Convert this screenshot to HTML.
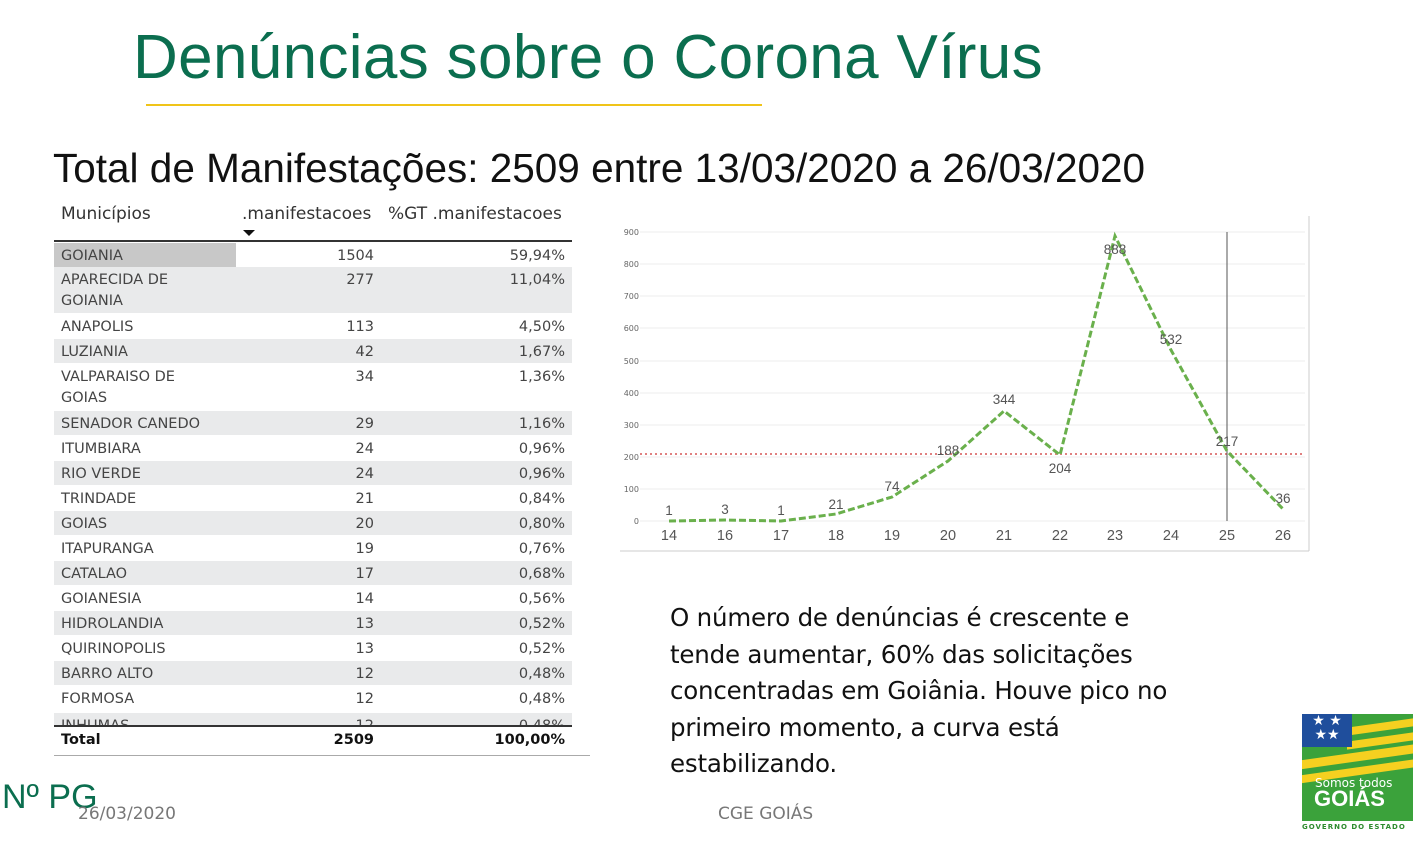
<!DOCTYPE html>
<html><head><meta charset="utf-8"><style>
body{margin:0;width:1426px;height:847px;background:#fff;position:relative;overflow:hidden;font-family:"DejaVu Sans","Liberation Sans",sans-serif}
.a{position:absolute;white-space:nowrap}
.r{position:absolute;left:54px;width:518px;font-size:14.5px;color:#444}
.r span{position:absolute;top:3px;line-height:21px}
.n{right:198px}.p{right:7px}.m{left:7px}
</style></head><body>
<div class="a" style="left:133px;top:22px;font-size:62px;letter-spacing:0.35px;color:#0b6e4f;font-family:'Liberation Sans',sans-serif">Denúncias sobre o Corona Vírus</div>
<div class="a" style="left:146px;top:104px;width:616px;height:2px;background:#f0c419"></div>
<div class="a" style="left:53px;top:145px;font-size:40.5px;color:#111;font-family:'Liberation Sans',sans-serif">Total de Manifestações: 2509 entre 13/03/2020 a 26/03/2020</div>
<div class="a" style="left:61px;top:204px;font-size:17px;color:#333">Municípios</div>
<div class="a" style="left:242px;top:204px;font-size:17px;color:#333">.manifestacoes</div>
<div class="a" style="left:388px;top:204px;font-size:17px;color:#333">%GT .manifestacoes</div>
<div class="a" style="left:243px;top:230px;width:0;height:0;border-left:6px solid transparent;border-right:6px solid transparent;border-top:6px solid #111"></div>
<div class="a" style="left:54px;top:240px;width:518px;height:2px;background:#333"></div>
<div style="position:absolute;left:0;top:0;width:600px;height:725px;overflow:hidden">
<div class="r" style="top:243px;height:24px;background:#fff"><div class="a" style="left:0;top:0;width:182px;height:24px;background:#c8c8c8"></div><span class="m">GOIANIA</span><span class="n">1504</span><span class="p">59,94%</span></div>
<div class="r" style="top:267px;height:46px;background:#e9eaeb"><span class="m" style="line-height:21px">APARECIDA DE<br>GOIANIA</span><span class="n">277</span><span class="p">11,04%</span></div>
<div class="r" style="top:314px;height:24px"><span class="m">ANAPOLIS</span><span class="n">113</span><span class="p">4,50%</span></div>
<div class="r" style="top:339px;height:24px;background:#e9eaeb"><span class="m">LUZIANIA</span><span class="n">42</span><span class="p">1,67%</span></div>
<div class="r" style="top:364px;height:46px"><span class="m">VALPARAISO DE<br>GOIAS</span><span class="n">34</span><span class="p">1,36%</span></div>
<div class="r" style="top:411px;height:24px;background:#e9eaeb"><span class="m">SENADOR CANEDO</span><span class="n">29</span><span class="p">1,16%</span></div>
<div class="r" style="top:436px;height:24px"><span class="m">ITUMBIARA</span><span class="n">24</span><span class="p">0,96%</span></div>
<div class="r" style="top:461px;height:24px;background:#e9eaeb"><span class="m">RIO VERDE</span><span class="n">24</span><span class="p">0,96%</span></div>
<div class="r" style="top:486px;height:24px"><span class="m">TRINDADE</span><span class="n">21</span><span class="p">0,84%</span></div>
<div class="r" style="top:511px;height:24px;background:#e9eaeb"><span class="m">GOIAS</span><span class="n">20</span><span class="p">0,80%</span></div>
<div class="r" style="top:536px;height:24px"><span class="m">ITAPURANGA</span><span class="n">19</span><span class="p">0,76%</span></div>
<div class="r" style="top:561px;height:24px;background:#e9eaeb"><span class="m">CATALAO</span><span class="n">17</span><span class="p">0,68%</span></div>
<div class="r" style="top:586px;height:24px"><span class="m">GOIANESIA</span><span class="n">14</span><span class="p">0,56%</span></div>
<div class="r" style="top:611px;height:24px;background:#e9eaeb"><span class="m">HIDROLANDIA</span><span class="n">13</span><span class="p">0,52%</span></div>
<div class="r" style="top:636px;height:24px"><span class="m">QUIRINOPOLIS</span><span class="n">13</span><span class="p">0,52%</span></div>
<div class="r" style="top:661px;height:24px;background:#e9eaeb"><span class="m">BARRO ALTO</span><span class="n">12</span><span class="p">0,48%</span></div>
<div class="r" style="top:686px;height:24px"><span class="m">FORMOSA</span><span class="n">12</span><span class="p">0,48%</span></div>
<div class="r" style="top:713px;height:24px;background:#e9eaeb"><span class="m">INHUMAS</span><span class="n">12</span><span class="p">0,48%</span></div>
</div>
<div class="a" style="left:54px;top:725px;width:518px;height:2px;background:#333"></div>
<div class="r" style="top:727px;height:26px;font-weight:bold;color:#111"><span class="m">Total</span><span class="n">2509</span><span class="p">100,00%</span></div>
<div class="a" style="left:54px;top:755px;width:536px;height:1px;background:#aaa"></div>

<svg class="a" style="left:0;top:0" width="1426" height="847">
<g stroke="#eee" stroke-width="1">
<line x1="640" x2="1305" y1="232" y2="232"/><line x1="640" x2="1305" y1="264" y2="264"/><line x1="640" x2="1305" y1="296" y2="296"/><line x1="640" x2="1305" y1="328" y2="328"/><line x1="640" x2="1305" y1="361" y2="361"/><line x1="640" x2="1305" y1="393" y2="393"/><line x1="640" x2="1305" y1="425" y2="425"/><line x1="640" x2="1305" y1="457" y2="457"/><line x1="640" x2="1305" y1="489" y2="489"/><line x1="640" x2="1305" y1="521" y2="521"/>
</g>
<g font-size="8" fill="#666" text-anchor="end" font-family="DejaVu Sans">
<text x="639" y="235">900</text><text x="639" y="267">800</text><text x="639" y="299">700</text><text x="639" y="331">600</text><text x="639" y="364">500</text><text x="639" y="396">400</text><text x="639" y="428">300</text><text x="639" y="460">200</text><text x="639" y="492">100</text><text x="639" y="524">0</text>
</g>
<line x1="620" x2="1309" y1="551" y2="551" stroke="#ccc"/>
<line x1="1309" x2="1309" y1="216" y2="551" stroke="#ccc"/>
<line x1="640" x2="1305" y1="454" y2="454" stroke="#e08080" stroke-width="2" stroke-dasharray="2,3"/>
<line x1="1227" x2="1227" y1="232" y2="521" stroke="#555" stroke-width="1"/>
<polyline fill="none" stroke="#6ab04c" stroke-width="3" stroke-dasharray="7,3" points="669,521 725,520 781,521 836,514 892,497 948,461 1004,411 1060,455 1115,236 1171,350 1227,451 1283,509"/>
<g font-size="14.5" fill="#555" text-anchor="middle" font-family="Liberation Sans">
<text x="669" y="540">14</text><text x="725" y="540">16</text><text x="781" y="540">17</text><text x="836" y="540">18</text><text x="892" y="540">19</text><text x="948" y="540">20</text><text x="1004" y="540">21</text><text x="1060" y="540">22</text><text x="1115" y="540">23</text><text x="1171" y="540">24</text><text x="1227" y="540">25</text><text x="1283" y="540">26</text>
</g>
<g font-size="13.5" fill="#555" text-anchor="middle" font-family="Liberation Sans">
<text x="669" y="515">1</text><text x="725" y="514">3</text><text x="781" y="515">1</text><text x="836" y="509">21</text><text x="892" y="491">74</text><text x="948" y="455">188</text><text x="1004" y="404">344</text><text x="1060" y="473">204</text><text x="1115" y="254">888</text><text x="1171" y="344">532</text><text x="1227" y="446">217</text><text x="1283" y="503">36</text>
</g>
</svg>

<div class="a" style="left:670px;top:600px;font-size:24.5px;line-height:36.5px;color:#111;font-family:'DejaVu Sans',sans-serif;letter-spacing:-0.2px">O número de denúncias é crescente e<br>tende aumentar, 60% das solicitações<br>concentradas em Goiânia. Houve pico no<br>primeiro momento, a curva está<br>estabilizando.</div>
<div class="a" style="left:2px;top:778px;font-size:34px;color:#0b6e4f;font-family:'Liberation Sans',sans-serif">Nº PG</div>
<div class="a" style="left:78px;top:804px;font-size:17px;color:#777">26/03/2020</div>
<div class="a" style="left:718px;top:804px;font-size:17px;color:#777">CGE GOIÁS</div>

<div class="a" style="left:1302px;top:714px;width:111px;height:107px;background:#3ba23b;overflow:hidden">
<div class="a" style="left:-5px;top:38px;width:125px;height:9px;background:#f5d020;transform:skewY(-8deg)"></div>
<div class="a" style="left:-5px;top:53px;width:125px;height:8px;background:#f5d020;transform:skewY(-8deg)"></div>
<div class="a" style="left:45px;top:8px;width:80px;height:8px;background:#f5d020;transform:skewY(-8deg)"></div>
<div class="a" style="left:45px;top:22px;width:80px;height:8px;background:#f5d020;transform:skewY(-8deg)"></div>
<div class="a" style="left:0;top:0;width:50px;height:33px;background:#1f4e9c;color:#fff;font-size:14px;line-height:14px;text-align:center">★ ★<br>★★</div>
<div class="a" style="left:13px;top:62px;font-size:12px;color:#fff">Somos todos</div>
<div class="a" style="left:12px;top:72px;font-size:22px;font-weight:bold;color:#fff;font-family:'Liberation Sans',sans-serif">GOIÁS</div>
</div>
<div class="a" style="left:1302px;top:823px;font-size:7px;font-weight:bold;color:#2e8b2e;letter-spacing:1px">GOVERNO DO ESTADO</div>
</body></html>
